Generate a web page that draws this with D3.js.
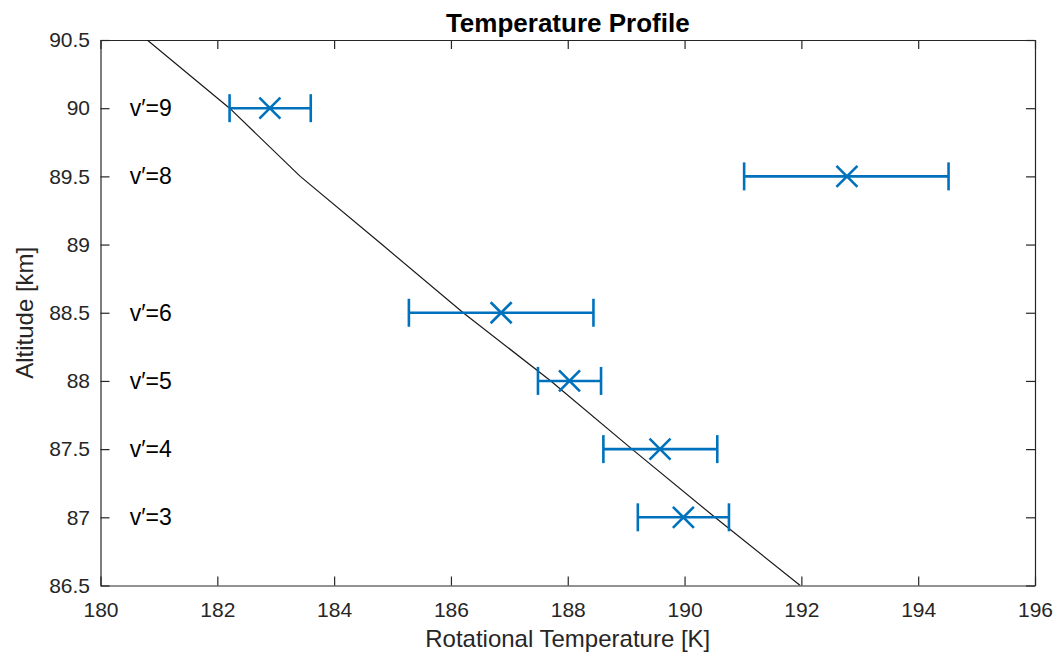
<!DOCTYPE html>
<html>
<head>
<meta charset="utf-8">
<script src="https://cdn.jsdelivr.net/npm/d3@7"></script>
<style>
  body { margin: 0; background: #fff; }
  svg text { font-family: "Liberation Sans", Arial, Helvetica, sans-serif; }
</style>
</head>
<body>
<div id="chart"></div>
<script>
// measured points (altitude in km, rotational temperature in K)
var altitudes = [90, 89.5, 88.5, 88, 87.5, 87];
var tempMid   = [182.90, 192.78, 186.86, 188.03, 189.58, 189.98];
var tempLow   = [182.21, 191.02, 185.28, 187.49, 188.61, 189.20];
var tempHigh  = [183.60, 194.52, 188.44, 188.57, 190.56, 190.76];
var vibLevels = [9, 8, 6, 5, 4, 3];

// reference profile line
var profileAlt  = [90.5, 90, 89.5, 89, 88.5, 88, 87.5, 87, 86.5];
var profileTemp = [180.80, 182.21, 183.42, 184.82, 186.21, 187.71, 189.10, 190.52, 191.98];

var xTicks = [180, 182, 184, 186, 188, 190, 192, 194, 196];
var yTicks = [86.5, 87, 87.5, 88, 88.5, 89, 89.5, 90, 90.5];

var W = 1056, H = 659;
var margin = { top: 40, right: 21, bottom: 73.5, left: 100.5 };
var width = W - margin.left - margin.right,
    height = H - margin.top - margin.bottom;

var axisColor = "#262626", blue = "#0072BD";

var svg = d3.select("#chart").append("svg")
    .attr("width", W)
    .attr("height", H);

var g = svg.append("g")
    .attr("transform", "translate(" + margin.left + "," + margin.top + ")");

var x = d3.scaleLinear().domain([180, 196]).range([0, width]);
var y = d3.scaleLinear().domain([86.5, 90.5]).range([height, 0]);

g.append("clipPath").attr("id", "clip")
  .append("rect").attr("width", width).attr("height", height);

// axes, ticks pointing inward on all four sides
function styleAxis(sel) {
  sel.selectAll("path, line").attr("stroke", axisColor).attr("stroke-width", 1.2);
  sel.selectAll("text").attr("fill", axisColor).style("font-size", "21px");
}

g.append("g")
    .attr("transform", "translate(0," + height + ")")
    .call(d3.axisBottom(x).tickValues(xTicks).tickFormat(d3.format("d"))
      .tickSizeInner(-9).tickSizeOuter(0).tickPadding(17))
    .call(styleAxis);

g.append("g")
    .call(d3.axisTop(x).tickValues(xTicks).tickFormat("")
      .tickSizeInner(-9).tickSizeOuter(0))
    .call(styleAxis);

g.append("g")
    .call(d3.axisLeft(y).tickValues(yTicks).tickFormat(function(d) { return String(d); })
      .tickSizeInner(-9).tickSizeOuter(0).tickPadding(10.5))
    .call(styleAxis);

g.append("g")
    .attr("transform", "translate(" + width + ",0)")
    .call(d3.axisRight(y).tickValues(yTicks).tickFormat("")
      .tickSizeInner(-9).tickSizeOuter(0))
    .call(styleAxis);

var plot = g.append("g").attr("clip-path", "url(#clip)");

// profile line
var line = d3.line()
    .x(function(d) { return x(d[1]); })
    .y(function(d) { return y(d[0]); });

plot.append("path")
    .datum(d3.zip(profileAlt, profileTemp))
    .attr("d", line)
    .attr("fill", "none")
    .attr("stroke", "#1a1a1a")
    .attr("stroke-width", 1.2);

// error bars
var pts = altitudes.map(function(a, i) {
  return { alt: a, mid: tempMid[i], lo: tempLow[i], hi: tempHigh[i], v: vibLevels[i] };
});

var eb = g.append("g").selectAll("g")
    .data(pts).enter().append("g")
    .attr("stroke", blue)
    .attr("stroke-width", 2.6)
    .attr("fill", "none");

eb.append("line")
    .attr("x1", function(d) { return x(d.lo); })
    .attr("x2", function(d) { return x(d.hi); })
    .attr("y1", function(d) { return y(d.alt); })
    .attr("y2", function(d) { return y(d.alt); });

var cap = 14;
eb.append("line")
    .attr("x1", function(d) { return x(d.lo); })
    .attr("x2", function(d) { return x(d.lo); })
    .attr("y1", function(d) { return y(d.alt) - cap; })
    .attr("y2", function(d) { return y(d.alt) + cap; });

eb.append("line")
    .attr("x1", function(d) { return x(d.hi); })
    .attr("x2", function(d) { return x(d.hi); })
    .attr("y1", function(d) { return y(d.alt) - cap; })
    .attr("y2", function(d) { return y(d.alt) + cap; });

// x markers
var m = 10.5;
eb.append("path")
    .attr("d", function(d) {
      var cx = x(d.mid), cy = y(d.alt);
      return "M" + (cx - m) + "," + (cy - m) + "L" + (cx + m) + "," + (cy + m) +
             "M" + (cx - m) + "," + (cy + m) + "L" + (cx + m) + "," + (cy - m);
    });

// v' labels
g.append("g").selectAll("text")
    .data(pts).enter().append("text")
    .attr("x", x(180.5))
    .attr("y", function(d) { return y(d.alt); })
    .attr("dy", "0.35em")
    .style("font-size", "23px")
    .attr("fill", "#000")
    .text(function(d) { return "v\u2032=" + d.v; });

// title and axis labels
svg.append("text")
    .attr("x", margin.left + width / 2)
    .attr("y", 32)
    .attr("text-anchor", "middle")
    .style("font-size", "26px")
    .style("font-weight", "bold")
    .attr("fill", "#000")
    .text("Temperature Profile");

svg.append("text")
    .attr("x", margin.left + width / 2)
    .attr("y", 647)
    .attr("text-anchor", "middle")
    .style("font-size", "24px")
    .attr("fill", axisColor)
    .text("Rotational Temperature [K]");

svg.append("text")
    .attr("transform", "translate(33," + (margin.top + height / 2) + ") rotate(-90)")
    .attr("text-anchor", "middle")
    .style("font-size", "24px")
    .attr("fill", axisColor)
    .text("Altitude [km]");
</script>
</body>
</html>
